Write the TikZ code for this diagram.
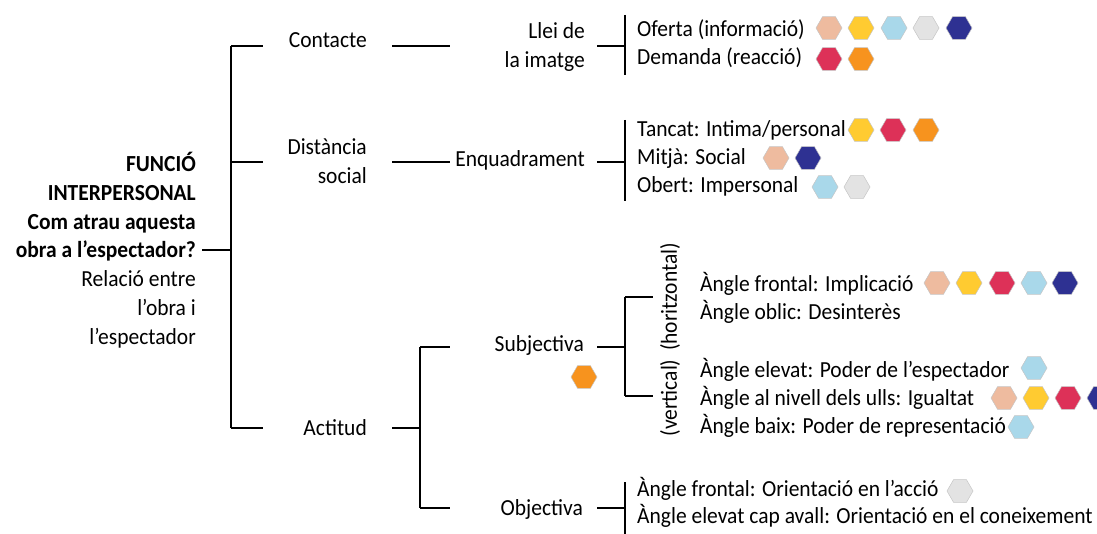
\documentclass[tikz,border=0pt]{standalone}
\usepackage{fontspec}
\setmainfont[FakeStretch=0.935]{Carlito}
\usetikzlibrary{shapes.geometric}
\definecolor{hexpeach}{HTML}{EEBB9F}
\definecolor{hexyellow}{HTML}{FFCB31}
\definecolor{hexblue}{HTML}{A9D8EA}
\definecolor{hexgrey}{HTML}{E3E3E3}
\definecolor{hexnavy}{HTML}{2E3192}
\definecolor{hexred}{HTML}{DD3158}
\definecolor{hexorange}{HTML}{F7931E}
\tikzset{
  txt/.style={inner sep=0pt, font=\fontsize{23}{28.8}\selectfont},
  link/.style={line width=2pt},
  hexa/.style={regular polygon, regular polygon sides=6, minimum size=26pt,
    inner sep=0pt, draw=gray!45, line width=0.5pt},
}

\begin{document}
\begin{tikzpicture}[x=1pt,y=-1pt]
\useasboundingbox (0,0) rectangle (1097,534);
% root
\node[txt,align=right,anchor=east] (root) at (196,250)
  {\textbf{FUNCIÓ}\\\textbf{INTERPERSONAL}\\\textbf{Com atrau aquesta}\\
   \textbf{obra a l’espectador?}\\Relació entre\\l’obra i\\l’espectador};
\coordinate (j0) at (231,250);
\coordinate (t1) at (231,46);
\coordinate (t2) at (231,162);
\coordinate (t3) at (231,428);
\draw[link] ([xshift=6pt]root.east) -- (j0);
\draw[link] (t1) -- (t3);
\draw[link] (t1) -- +(32,0);
\draw[link] (t2) -- +(32,0);
\draw[link] (t3) -- +(32,0);

% first level
\node[txt,anchor=base east] (cont) at (367,48) {Contacte};
\node[txt,align=right,anchor=east] (dist) at (367,161) {Distància\\social};
\node[txt,anchor=base east] (act) at (367,435) {Actitud};
\draw[link] ([xshift=25pt]cont.east |- t1) -- +(58,0);
\draw[link] ([xshift=25pt]dist.east |- t2) -- +(58,0);
\coordinate (a1) at (420,347);
\coordinate (a2) at (420,428);
\coordinate (a3) at (420,508);
\draw[link] ([xshift=25pt]act.east |- t3) -- (a2);
\draw[link] (a1) -- (a3);
\draw[link] (a1) -- +(30,0);
\draw[link] (a3) -- +(30,0);

% second level
\node[txt,align=right,anchor=east] (llei) at (585,47) {Llei de\\la imatge};
\node[txt,anchor=base east] (enq) at (585,167) {Enquadrament};
\node[txt,anchor=base east] (subj) at (584,352) {Subjectiva};
\node[txt,anchor=base east] (obj) at (583,515) {Objectiva};
\coordinate (b1) at (625,46);
\coordinate (b2) at (625,162);
\coordinate (b3) at (625,347);
\coordinate (b4) at (625,508);
\draw[link] ([xshift=12pt]llei.east |- b1) -- (b1);
\draw[link] ([xshift=12pt]enq.east |- b2) -- (b2);
\draw[link] ([xshift=13pt]subj.east |- b3) -- (b3);
\draw[link] ([xshift=14pt]obj.east |- b4) -- (b4);
\draw[link] (625,15) -- (625,75);
\draw[link] (625,120) -- (625,201);
\draw[link] (625,482) -- (625,534);
\coordinate (s1) at (625,297);
\coordinate (s2) at (625,396);
\draw[link] (s1) -- (s2);
\draw[link] (s1) -- +(28,0);
\draw[link] (s2) -- +(28,0);
\node[txt,rotate=90] (horiz) at (670,297) {(horitzontal)};
\node[txt,rotate=90] (vert) at (670,398) {(vertical)};

% leaves
\node[txt,anchor=base west] (ofe) at (637,37) {Oferta (informació)};
\node[txt,anchor=base west] (dem) at (637,65) {Demanda (reacció)};
\node[txt,anchor=base west] (tan) at (637,137) {Tancat: Intima/personal};
\node[txt,anchor=base west] (mit) at (637,165) {Mitjà: Social};
\node[txt,anchor=base west] (obe) at (637,193) {Obert: Impersonal};
\node[txt,anchor=base west] (afr) at (700,292) {Àngle frontal: Implicació};
\node[txt,anchor=base west] (aob) at (700,320) {Àngle oblic: Desinterès};
\node[txt,anchor=base west] (ael) at (700,377) {Àngle elevat: Poder de l’espectador};
\node[txt,anchor=base west] (ani) at (700,405) {Àngle al nivell dels ulls: Igualtat};
\node[txt,anchor=base west] (aba) at (700,433) {Àngle baix: Poder de representació};
\node[txt,anchor=base west] (ofr) at (637,496) {Àngle frontal: Orientació en l’acció};
\node[txt,anchor=base west] (oca) at (637,523) {Àngle elevat cap avall: Orientació en el coneixement};

% hexagons
\node[hexa,fill=hexpeach] (ofe1) at (829,28) {};
\node[hexa,fill=hexyellow] (ofe2) at (861,28) {};
\node[hexa,fill=hexblue] (ofe3) at (894,28) {};
\node[hexa,fill=hexgrey] (ofe4) at (926,28) {};
\node[hexa,fill=hexnavy] (ofe5) at (959,28) {};
\node[hexa,fill=hexred] (dem1) at (829,59) {};
\node[hexa,fill=hexorange] (dem2) at (861,59) {};
\node[hexa,fill=hexyellow] (tan1) at (861,130) {};
\node[hexa,fill=hexred] (tan2) at (893,130) {};
\node[hexa,fill=hexorange] (tan3) at (926,130) {};
\node[hexa,fill=hexpeach] (mit1) at (776,158) {};
\node[hexa,fill=hexnavy] (mit2) at (808,158) {};
\node[hexa,fill=hexblue] (obe1) at (825,187) {};
\node[hexa,fill=hexgrey] (obe2) at (857,187) {};
\node[hexa,fill=hexorange] (subj1) at (584,377) {};
\node[hexa,fill=hexpeach] (afr1) at (937,283) {};
\node[hexa,fill=hexyellow] (afr2) at (969,283) {};
\node[hexa,fill=hexred] (afr3) at (1002,283) {};
\node[hexa,fill=hexblue] (afr4) at (1034,283) {};
\node[hexa,fill=hexnavy] (afr5) at (1065,283) {};
\node[hexa,fill=hexblue] (ael1) at (1034,368) {};
\node[hexa,fill=hexpeach] (ani1) at (1004,398) {};
\node[hexa,fill=hexyellow] (ani2) at (1036,398) {};
\node[hexa,fill=hexred] (ani3) at (1068,398) {};
\node[hexa,fill=hexnavy] (ani4) at (1100,398) {};
\node[hexa,fill=hexblue] (aba1) at (1021,427) {};
\node[hexa,fill=hexgrey] (ofr1) at (960,491) {};
\end{tikzpicture}
\end{document}
